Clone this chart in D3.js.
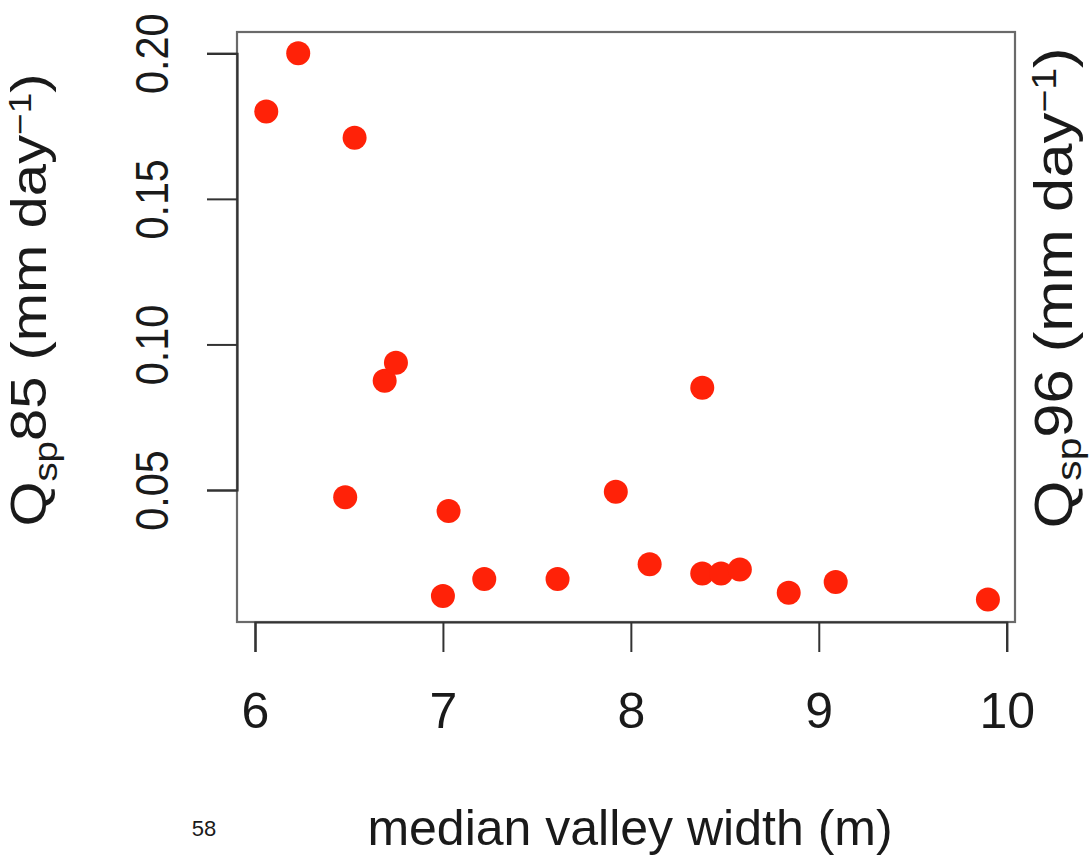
<!DOCTYPE html>
<html>
<head>
<meta charset="utf-8">
<script src="https://cdn.jsdelivr.net/npm/d3@7"></script>
<style>
  html, body { margin: 0; padding: 0; background: #fff; }
  svg text { font-family: "Liberation Sans", Arial, Helvetica, sans-serif; fill: #1a1a1a; }
</style>
</head>
<body>
<svg id="chart" width="1092" height="856"></svg>
<script>
// Median valley width (m) for each catchment
const valleyWidth = [6.06, 6.23, 6.53, 6.48, 6.69, 6.75, 7.03, 7.00, 7.22, 7.61,
                     7.92, 8.10, 8.38, 8.38, 8.48, 8.58, 8.84, 9.09, 9.90];
// Specific discharge (mm day^-1)
const qsp = [0.180, 0.200, 0.171, 0.0475, 0.0875, 0.0937, 0.0428, 0.0136, 0.0194, 0.0194,
             0.0494, 0.0245, 0.0851, 0.0213, 0.0213, 0.0227, 0.0147, 0.0184, 0.0124];

const xTicks = [6, 7, 8, 9, 10];
const yTicks = [0.05, 0.10, 0.15, 0.20];
const yTickLabels = ["0.05", "0.10", "0.15", "0.20"];

const svg = d3.select("#chart");

const box = { left: 237, right: 1015, top: 32, bottom: 622 };

const x = d3.scaleLinear().domain([6, 10]).range([255, 1006.7]);
const y = d3.scaleLinear().domain([0.05, 0.20]).range([490, 53.3]);

// plot frame
svg.append("rect")
  .attr("x", box.left).attr("y", box.top)
  .attr("width", box.right - box.left).attr("height", box.bottom - box.top)
  .attr("fill", "none").attr("stroke", "#6a6a6a").attr("stroke-width", 2.2);

// bottom axis
const xAxis = d3.axisBottom(x).tickValues(xTicks).tickSize(30).tickPadding(40)
  .tickFormat(d3.format("d"));
const gx = svg.append("g").attr("transform", `translate(0,${box.bottom})`).call(xAxis);
gx.select(".domain").attr("stroke", "#333").attr("stroke-width", 2.2);
gx.selectAll(".tick line").attr("stroke", "#333").attr("stroke-width", 2);
gx.selectAll(".tick text")
  .attr("font-size", 50).attr("fill", "#1a1a1a")
  .style("font-family", "Liberation Sans, Arial, sans-serif");

// left axis, labels turned parallel to the axis
const yAxis = d3.axisLeft(y).tickValues(yTicks).tickSize(30)
  .tickFormat((d, i) => yTickLabels[i]);
const gy = svg.append("g").attr("transform", `translate(${box.left},0)`).call(yAxis);
gy.select(".domain").attr("stroke", "#333").attr("stroke-width", 2.2);
gy.selectAll(".tick line").attr("stroke", "#333").attr("stroke-width", 2);
gy.selectAll(".tick text")
  .attr("x", null).attr("dy", null)
  .attr("text-anchor", "middle")
  .attr("transform", "translate(-69,0) rotate(-90) scale(0.88,1)")
  .attr("font-size", 47).attr("fill", "#1a1a1a")
  .style("font-family", "Liberation Sans, Arial, sans-serif");

// points
svg.append("g").selectAll("circle")
  .data(valleyWidth.map((v, i) => [v, qsp[i]]))
  .join("circle")
  .attr("cx", d => x(d[0]))
  .attr("cy", d => y(d[1]))
  .attr("r", 12)
  .attr("fill", "#ff2208");

// axis titles: Q with subscript "sp", unit with superscript -1
function qLabel(g, num, size, sub) {
  const k = size / 50;
  const t = g.append("text").attr("font-size", size).attr("text-anchor", "middle");
  t.append("tspan").text("Q");
  t.append("tspan").attr("font-size", 33 * k).attr("dy", sub * k).text("sp");
  t.append("tspan").attr("dy", -sub * k).text(num + " (mm day");
  t.append("tspan").attr("font-size", 32 * k).attr("dy", -15 * k).text("\u22121");
  t.append("tspan").attr("dy", 15 * k).text(")");
  return t;
}
qLabel(svg.append("g").attr("transform", "translate(46,300) rotate(-90) scale(1.16,1)"), "85", 50, 11);
qLabel(svg.append("g").attr("transform", "translate(1072,288) rotate(-90) scale(1.14,1)"), "96", 54, 8);

svg.append("text")
  .attr("x", 630).attr("y", 845)
  .attr("text-anchor", "middle").attr("font-size", 50)
  .text("median valley width (m)");

svg.append("text")
  .attr("x", 204).attr("y", 836)
  .attr("text-anchor", "middle").attr("font-size", 22)
  .attr("fill", "#000")
  .text("58");
</script>
</body>
</html>
